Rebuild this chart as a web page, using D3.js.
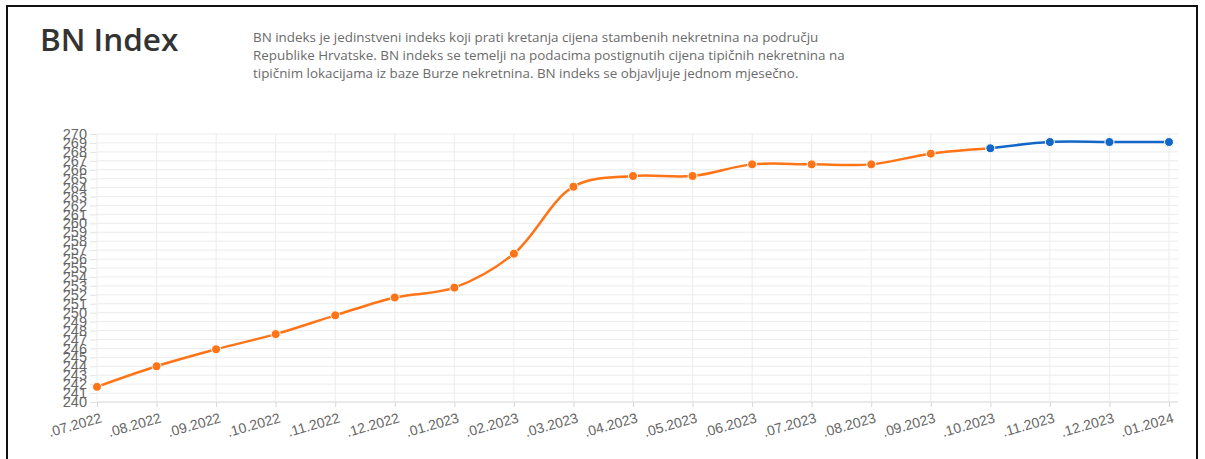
<!DOCTYPE html>
<html>
<head>
<meta charset="utf-8">
<script src="https://cdn.jsdelivr.net/npm/d3@7"></script>
<style>
  body { margin: 0; background: #fff; }
  svg { display: block; }
</style>
</head>
<body>
<div id="chart"></div>
<script>
// data
const months = [".07.2022", ".08.2022", ".09.2022", ".10.2022", ".11.2022", ".12.2022",
  ".01.2023", ".02.2023", ".03.2023", ".04.2023", ".05.2023", ".06.2023", ".07.2023",
  ".08.2023", ".09.2023", ".10.2023", ".11.2023", ".12.2023", ".01.2024"];
const orangeValues = [241.7, 244.0, 245.9, 247.6, 249.7, 251.7, 252.8, 256.6, 264.1, 265.3,
  265.3, 266.6, 266.6, 266.6, 267.8, 268.4];
const blueValues = [268.4, 269.1, 269.1, 269.1];
const blueStart = 15;
const yTicks = d3.range(240, 271);
const description = [
  "BN indeks je jedinstveni indeks koji prati kretanja cijena stambenih nekretnina na području",
  "Republike Hrvatske. BN indeks se temelji na podacima postignutih cijena tipičnih nekretnina na",
  "tipičnim lokacijama iz baze Burze nekretnina. BN indeks se objavljuje jednom mjesečno."
];

const width = 1205, height = 459;
const orange = "#ff7416", blue = "#1467c8";

const svg = d3.select("#chart").append("svg")
  .attr("width", width)
  .attr("height", height);

// frame around the widget (bottom edge runs off the picture)
svg.append("path")
  .attr("d", "M7,470 V6 H1197 V470")
  .attr("fill", "none")
  .attr("stroke", "#111")
  .attr("stroke-width", 2);

svg.append("text")
  .attr("x", 40).attr("y", 51)
  .style("font-family", "'Open Sans', sans-serif")
  .style("font-size", "31.5px")
  .style("font-weight", 600)
  .style("fill", "#333")
  .text("BN Index");

svg.append("g").selectAll("text")
  .data(description)
  .join("text")
  .attr("x", 253)
  .attr("y", (d, i) => 42 + i * 18)
  .style("font-family", "'Open Sans', sans-serif")
  .style("font-size", "13.4px")
  .style("fill", "#6b6b6b")
  .text(d => d);

const x = d3.scalePoint().domain(months).range([97, 1169]);
const y = d3.scaleLinear().domain([240, 270]).range([402, 134]);

// horizontal grid + y labels
const yAxis = svg.append("g")
  .attr("transform", "translate(97,0)")
  .call(d3.axisLeft(y).tickValues(yTicks).tickSize(7).tickPadding(3).tickFormat(d3.format("d")));
yAxis.select(".domain").remove();
yAxis.selectAll("line").attr("stroke", "#e3e3e3");
yAxis.selectAll("text")
  .style("font-family", "'Liberation Sans', Arial, sans-serif")
  .style("font-size", "14.5px")
  .style("fill", "#666");

svg.append("g").selectAll("line")
  .data(yTicks)
  .join("line")
  .attr("x1", 97).attr("x2", 1178)
  .attr("y1", d => y(d)).attr("y2", d => y(d))
  .attr("stroke", d => d === 240 ? "#d6d6d6" : "#ececec");

// vertical grid + x labels
const xAxis = svg.append("g")
  .attr("transform", "translate(0,402)")
  .call(d3.axisBottom(x).tickSize(5).tickPadding(6));
xAxis.select(".domain").remove();
xAxis.selectAll("line").attr("stroke", "#d6d6d6");
xAxis.selectAll("text")
  .attr("text-anchor", "end")
  .attr("y", 0)
  .attr("dy", 0)
  .attr("transform", "translate(5,20) rotate(-16)")
  .style("font-family", "'Liberation Sans', Arial, sans-serif")
  .style("font-size", "14px")
  .style("fill", "#666");

svg.append("g").selectAll("line")
  .data(months)
  .join("line")
  .attr("x1", d => x(d)).attr("x2", d => x(d))
  .attr("y1", 134).attr("y2", 402)
  .attr("stroke", "#ececec");

const orangeData = orangeValues.map((v, i) => ({ m: months[i], v }));
const blueData = blueValues.map((v, i) => ({ m: months[blueStart + i], v }));

const line = d3.line()
  .x(d => x(d.m))
  .y(d => y(d.v))
  .curve(d3.curveCatmullRom.alpha(0.5));

function drawSeries(data, color) {
  svg.append("path")
    .datum(data)
    .attr("d", line)
    .attr("fill", "none")
    .attr("stroke", color)
    .attr("stroke-width", 2.5);
  svg.append("g").selectAll("circle")
    .data(data)
    .join("circle")
    .attr("cx", d => x(d.m))
    .attr("cy", d => y(d.v))
    .attr("r", 4.5)
    .attr("fill", color)
    .attr("stroke", "#fff")
    .attr("stroke-width", 1);
}

drawSeries(orangeData, orange);
drawSeries(blueData, blue);
</script>
</body>
</html>
